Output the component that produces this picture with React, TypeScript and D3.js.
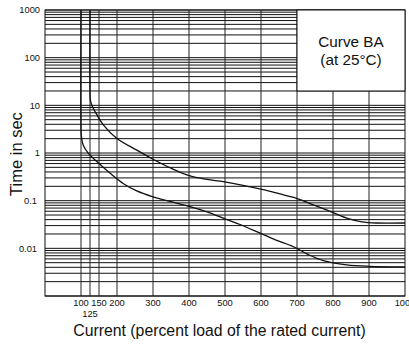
import React from "react";
import * as d3 from "d3";

const X_GRID = [100, 125, 150, 200, 300, 400, 500, 600, 700, 800, 900];
const X_TICKS = [100, 125, 150, 200, 300, 400, 500, 600, 700, 800, 900, 1000];
const X_TICK_LABELS = ["100", "125", "150", "200", "300", "400", "500", "600", "700", "800", "900", "1000"];
const Y_DECADES = [1000, 100, 10, 1, 0.1, 0.01];
const Y_TICK_LABELS = ["1000", "100", "10", "1", "0.1", "0.01"];

const UPPER_X = [125, 125, 126, 130, 139, 162, 199, 255, 300, 350, 403, 450, 495, 550, 606, 650, 699, 740, 782, 838, 880, 920, 1000];
const UPPER_Y = [1000, 20, 13, 10, 7.4, 3.9, 2.05, 1.15, 0.74, 0.48, 0.33, 0.28, 0.25, 0.21, 0.17, 0.14, 0.112, 0.085, 0.064, 0.043, 0.036, 0.034, 0.034];

const LOWER_X = [100, 100, 101, 106, 120, 144, 181, 217, 255, 300, 350, 403, 450, 495, 540, 588, 640, 690, 730, 773, 838, 900, 1000];
const LOWER_Y = [1000, 3.2, 2.3, 1.47, 0.99, 0.66, 0.375, 0.23, 0.16, 0.12, 0.095, 0.075, 0.058, 0.043, 0.032, 0.0224, 0.015, 0.0108, 0.0075, 0.0055, 0.0045, 0.0042, 0.0041];

const LEGEND_X = [700, 1000];
const LEGEND_Y = [20, 1000];
const LEGEND_LINES = ["Curve BA", "(at 25°C)"];

const X_TITLE = "Current (percent load of the rated current)";
const Y_TITLE = "Time in sec";

const W = 409;
const H = 344;
const FONT = "'Liberation Sans', Arial, Helvetica, sans-serif";

export default function App() {
  const x = d3.scaleLinear().domain([0, 1000]).range([45, 405]);
  const y = d3.scaleLog().domain([0.001, 1000]).range([296, 10]);

  const minor: number[] = [];
  for (let e = -3; e < 3; e++) {
    for (let k = 1; k <= 9; k++) minor.push(k * Math.pow(10, e));
  }
  minor.push(1000);

  const line = d3
    .line<[number, number]>()
    .x((d) => x(d[0]))
    .y((d) => y(d[1]))
    .curve(d3.curveCatmullRom.alpha(0.5));

  const upper = UPPER_X.map((v, i) => [v, UPPER_Y[i]] as [number, number]);
  const lower = LOWER_X.map((v, i) => [v, LOWER_Y[i]] as [number, number]);

  const [x0, x1] = x.range();
  const [yb, yt] = y.range();
  const lx0 = x(LEGEND_X[0]);
  const lx1 = x(LEGEND_X[1]);
  const ly0 = y(LEGEND_Y[1]);
  const ly1 = y(LEGEND_Y[0]);
  const lcx = (lx0 + lx1) / 2;

  return (
    <svg
      width={W}
      height={H}
      style={{ position: "absolute", left: 0, top: 0, background: "#fff" }}
      fontFamily={FONT}
    >
      <rect x={0} y={0} width={W} height={H} fill="#fff" />
      {minor.map((v, i) => (
        <line key={"h" + i} x1={x0} x2={x1} y1={y(v)} y2={y(v)} stroke="#111" strokeWidth={1} />
      ))}
      {X_GRID.map((v, i) => (
        <line key={"v" + i} x1={x(v)} x2={x(v)} y1={yt} y2={yb} stroke="#222" strokeWidth={1} />
      ))}
      <rect x={x0} y={yt} width={x1 - x0} height={yb - yt} fill="none" stroke="#111" strokeWidth={1} />
      <rect x={lx0} y={ly0} width={lx1 - lx0} height={ly1 - ly0} fill="#fff" stroke="#111" strokeWidth={1} />
      <text x={lcx} y={47} textAnchor="middle" fontSize={15.3} fill="#111">
        {LEGEND_LINES[0]}
      </text>
      <text x={lcx} y={65} textAnchor="middle" fontSize={15.3} fill="#111">
        {LEGEND_LINES[1]}
      </text>
      <path d={line(upper) || ""} fill="none" stroke="#111" strokeWidth={1.3} />
      <path d={line(lower) || ""} fill="none" stroke="#111" strokeWidth={1.3} />
      {Y_DECADES.map((v, i) => (
        <text
          key={"yl" + i}
          x={Y_TICK_LABELS[i].includes(".") ? 37 : 40}
          y={y(v)}
          dy="0.35em"
          textAnchor="end"
          fontSize={9.3}
          fill="#111"
        >
          {Y_TICK_LABELS[i]}
        </text>
      ))}
      {X_TICKS.map((v, i) => (
        <text
          key={"xl" + i}
          x={x(v)}
          y={v === 125 ? 316.5 : 305.5}
          textAnchor="middle"
          fontSize={9.3}
          fill="#111"
        >
          {X_TICK_LABELS[i]}
        </text>
      ))}
      <text x={219.5} y={336} textAnchor="middle" fontSize={15.8} fill="#111">
        {X_TITLE}
      </text>
      <text
        transform={`translate(21.5,${(yt + yb) / 2 + 1}) rotate(-90)`}
        textAnchor="middle"
        fontSize={16.5}
        fill="#111"
      >
        {Y_TITLE}
      </text>
    </svg>
  );
}
